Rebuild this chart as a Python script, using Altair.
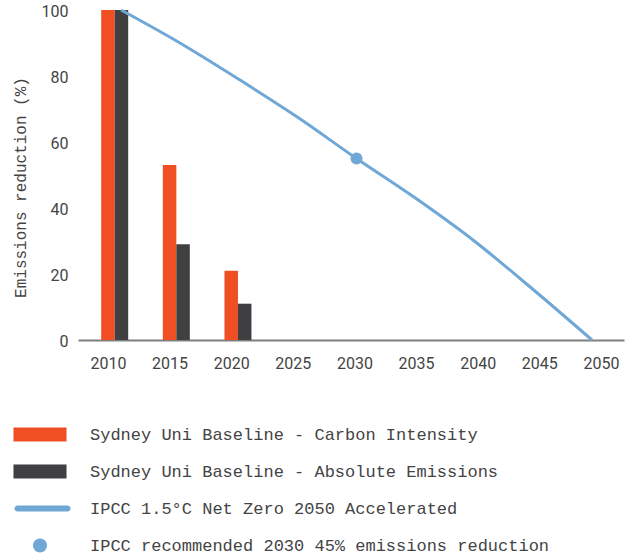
import altair as alt
import pandas as pd

# Sydney Uni baseline series (percent of 2010 emissions)
bar_years = [2010, 2015, 2020]
carbon_intensity = [100, 53, 21]
absolute_emissions = [100, 29, 11]

# IPCC 1.5°C accelerated pathway to net zero in 2050
ipcc_years = [2010, 2015, 2020, 2025, 2030, 2035, 2040, 2045, 2050]
ipcc_path = [100, 90, 79, 67.5, 55, 43, 30, 15.3, 0]

# IPCC 2030 milestone
target_year = [2030]
target_value = [55]

tick_years = [2010, 2015, 2020, 2025, 2030, 2035, 2040, 2045, 2050]
y_ticks = [0, 20, 40, 60, 80, 100]

series = [
    "Sydney Uni Baseline - Carbon Intensity",
    "Sydney Uni Baseline - Absolute Emissions",
    "IPCC 1.5°C Net Zero 2050 Accelerated",
    "IPCC recommended 2030 45% emissions reduction",
]
colors = ["#F04F23", "#404042", "#6FA7D6", "#6FA7D6"]
# legend glyphs: wide blocks for the bars, a rounded stroke for the line, a dot
shapes = [
    "M-3.79,-1H3.79V1H-3.79Z",
    "M-3.79,-1H3.79V1H-3.79Z",
    "M-3.21,-0.43H3.93A0.43,0.43 0 0 1 3.93,0.43H-3.21A0.43,0.43 0 0 1 -3.21,-0.43Z",
    "circle",
]

intensity_df = pd.DataFrame({"year": bar_years, "value": carbon_intensity, "series": series[0]})
absolute_df = pd.DataFrame({"year": bar_years, "value": absolute_emissions, "series": series[1]})
ipcc_df = pd.DataFrame({"year": ipcc_years, "value": ipcc_path, "series": series[2]})
target_df = pd.DataFrame({"year": target_year, "value": target_value, "series": series[3]})

SANS = "Roboto"
MONO = "Liberation Mono"
TEXT = "#444444"

legend = alt.Legend(
    orient="none", legendX=-46.5, legendY=416, title=None, padding=0,
    labelFont=MONO, labelFontSize=17, labelColor=TEXT, labelOffset=41.5,
    labelLimit=600, rowPadding=19, symbolSize=196, symbolStrokeWidth=0,
    symbolOpacity=1,
)
color = alt.Color("series:N", scale=alt.Scale(domain=series, range=colors), legend=legend)
shape = alt.Shape("series:N", scale=alt.Scale(domain=series, range=shapes), legend=legend)

y_axis = alt.Axis(
    values=y_ticks, grid=False, ticks=False, domain=False,
    labelFont=SANS, labelFontSize=16, labelColor=TEXT, labelPadding=10,
    labelOffset=1,
    title="Emissions reduction (%)", titleFont=MONO, titleFontSize=16,
    titleFontWeight="normal", titleColor=TEXT, titleX=-58, titleY=177,
    titleBaseline="middle", titleAlign="center", titleAngle=-90,
)
y = alt.Y("value:Q", scale=alt.Scale(domain=[0, 100], nice=False), axis=y_axis, stack=None)

# bars share the labelled year axis
x_bars = alt.X(
    "year:Q",
    scale=alt.Scale(domain=[2007.57, 2051.87], nice=False, zero=False, padding=0),
    axis=alt.Axis(
        values=tick_years, format="d", grid=False, ticks=False,
        domainColor="#7F7F7F", domainWidth=2,
        labelFont=SANS, labelFontSize=16, labelColor=TEXT, labelPadding=15,
    ),
    title=None,
)
# the pathway runs on its own year scale
x_path = alt.X(
    "year:Q",
    scale=alt.Scale(domain=[2006.34, 2052.72], nice=False, zero=False, padding=0),
    axis=None,
)

intensity = alt.Chart(intensity_df).mark_bar(size=13.5).encode(x=x_bars, y=y, color=color)
absolute = alt.Chart(absolute_df).mark_bar(size=13.5, xOffset=13.5).encode(x=x_bars, y=y, color=color)

pathway = alt.Chart(ipcc_df).mark_line(strokeWidth=3, interpolate="monotone").encode(
    x=x_path, y=y, color=alt.value(colors[2])
)
milestone = alt.Chart(target_df).mark_point(filled=True, size=144, opacity=1).encode(
    x=x_path, y=y, color=color, shape=shape
)

chart = (
    alt.layer(alt.layer(intensity, absolute), alt.layer(pathway, milestone))
    .resolve_scale(x="independent")
    .properties(
        width=546, height=330,
        padding={"left": 78, "top": 10, "right": 5, "bottom": 218},
        autosize=alt.AutoSizeParams(type="none"),
        background="white",
    )
    .configure_view(stroke=None)
)

chart.save("out.html", embed_options={"renderer": "svg", "actions": False})
